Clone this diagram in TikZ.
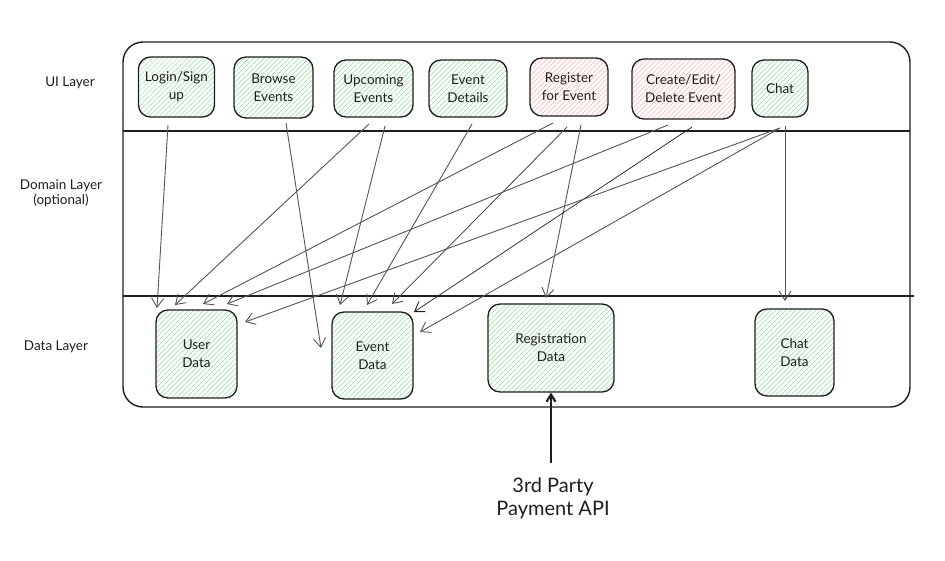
\documentclass[tikz,border=0pt]{standalone}
\usepackage{fontspec}
\setmainfont{Lato}
\usetikzlibrary{arrows.meta,calc}
\definecolor{hgreen}{HTML}{A6E4B0}
\definecolor{hred}{HTML}{FFBDBD}
\definecolor{ink}{HTML}{1E1E1E}
\definecolor{conn}{HTML}{555555}
\tikzset{
  box/.style={draw=ink, line width=1.3pt, rounded corners=12pt, inner sep=0pt, align=center,
    font=\fontsize{13.5}{18}\selectfont, text=ink},
  hatch/.style={path picture={\foreach \i in {-100,-95,...,140}{\draw[#1,line width=0.7pt] ($(path picture bounding box.south west)+(\i,0)$) -- ++(110,-110);}}},
  greenbox/.style={box, hatch=hgreen},
  redbox/.style={box, hatch=hred},
  lbl/.style={align=center, font=\fontsize{13.5}{15}\selectfont, text=ink},
  conn/.style={draw=conn, line width=0.9pt, -{Straight Barb[length=9pt,width=12pt,line width=0.9pt]}},
  darkconn/.style={conn, draw=ink, line width=0.7pt},
  layerline/.style={draw=ink, line width=1.4pt}
}
\begin{document}
\begin{tikzpicture}[x=1pt,y=-1pt]
\useasboundingbox (0,0) rectangle (945,560);
% outer frame
\draw[draw=ink, line width=1.4pt, rounded corners=20pt] (123,42) rectangle (910,407);
\coordinate (l1a) at (123,131); \coordinate (l1b) at (910,131);
\coordinate (l2a) at (123,296); \coordinate (l2b) at (914,296);
\draw[layerline] (l1a) -- (l1b);
\draw[layerline] (l2a) -- (l2b);
% layer labels
\node[lbl] (uil) at (70,83) {UI Layer};
\node[lbl] (doml) at (61,193) {Domain Layer\\(optional)};
\node[lbl] (datal) at (56,347) {Data Layer};
% UI boxes
\node[greenbox, minimum width=76pt, minimum height=60pt] (login) at (176.5,87) {Login/Sign\\up};
\node[greenbox, minimum width=79pt, minimum height=61pt] (browse) at (273.5,87.5) {Browse\\Events};
\node[greenbox, minimum width=79pt, minimum height=57pt] (upcoming) at (373.5,88.5) {Upcoming\\Events};
\node[greenbox, minimum width=78pt, minimum height=57pt] (details) at (468,88.5) {Event\\Details};
\node[redbox, minimum width=78pt, minimum height=58pt] (register) at (569,87) {Register\\for Event};
\node[redbox, minimum width=103pt, minimum height=60pt] (create) at (683.5,89) {Create/Edit/\\Delete Event};
\node[greenbox, minimum width=56pt, minimum height=57pt] (chat) at (780,88.5) {Chat};
% Data boxes
\node[greenbox, minimum width=81pt, minimum height=88pt] (user) at (196.5,354) {User\\Data};
\node[greenbox, minimum width=81pt, minimum height=87pt] (event) at (372.5,355.5) {Event\\Data};
\node[greenbox, minimum width=126pt, minimum height=88pt] (regdata) at (551,348) {Registration\\Data};
\node[greenbox, minimum width=79pt, minimum height=87pt] (chatdata) at (794.5,352.5) {Chat\\Data};
% API
\node[lbl, font=\fontsize{20}{23}\selectfont] (api) at (553,498) {3rd Party\\Payment API};
% start points
\coordinate (sLogin) at (168,125);
\coordinate (sBrowse) at (286,123);
\coordinate (sUp1) at (369,124);
\coordinate (sUp2) at (385,126);
\coordinate (sDet) at (472,124);
\coordinate (sReg1) at (553,123);
\coordinate (sReg2) at (567,127);
\coordinate (sReg3) at (581,125);
\coordinate (sCr1) at (668,125);
\coordinate (sCr2) at (692,127);
\coordinate (sCh) at (780,128);
\coordinate (sCh2) at (785,126);
% end points
\coordinate (eU1) at (157,308);
\coordinate (eU2) at (175,305);
\coordinate (eU3) at (203,304);
\coordinate (eU4) at (227,304);
\coordinate (eU5) at (245,322);
\coordinate (eE1) at (321,348);
\coordinate (eE2) at (340,305);
\coordinate (eE3) at (367,305);
\coordinate (eE4) at (392,304);
\coordinate (eE5) at (414,312);
\coordinate (eE6) at (420,332);
\coordinate (eR) at (546,298);
\coordinate (eC) at (785,301);
% connectors
\draw[conn] (sLogin) -- (eU1);
\draw[conn] (sBrowse) -- (eE1);
\draw[conn] (sUp1) -- (eU2);
\draw[conn] (sUp2) -- (eE2);
\draw[conn] (sDet) -- (eE3);
\draw[conn] (sReg1) -- (eU3);
\draw[conn] (sReg2) -- (eE4);
\draw[conn] (sReg3) -- (eR);
\draw[conn] (sCr1) -- (eU4);
\draw[darkconn] (sCr2) -- (eE5);
\draw[conn] (sCh) -- (eU5);
\draw[conn] (sCh) -- (eE6);
\draw[conn] (sCh2) -- (eC);
% thick API arrow
\coordinate (apiTop) at (551,463);
\draw[draw=ink, line width=2.6pt, -{Straight Barb[length=7pt,width=9pt,line width=2.2pt]}] (apiTop) -- (regdata.south);
\end{tikzpicture}
\end{document}
